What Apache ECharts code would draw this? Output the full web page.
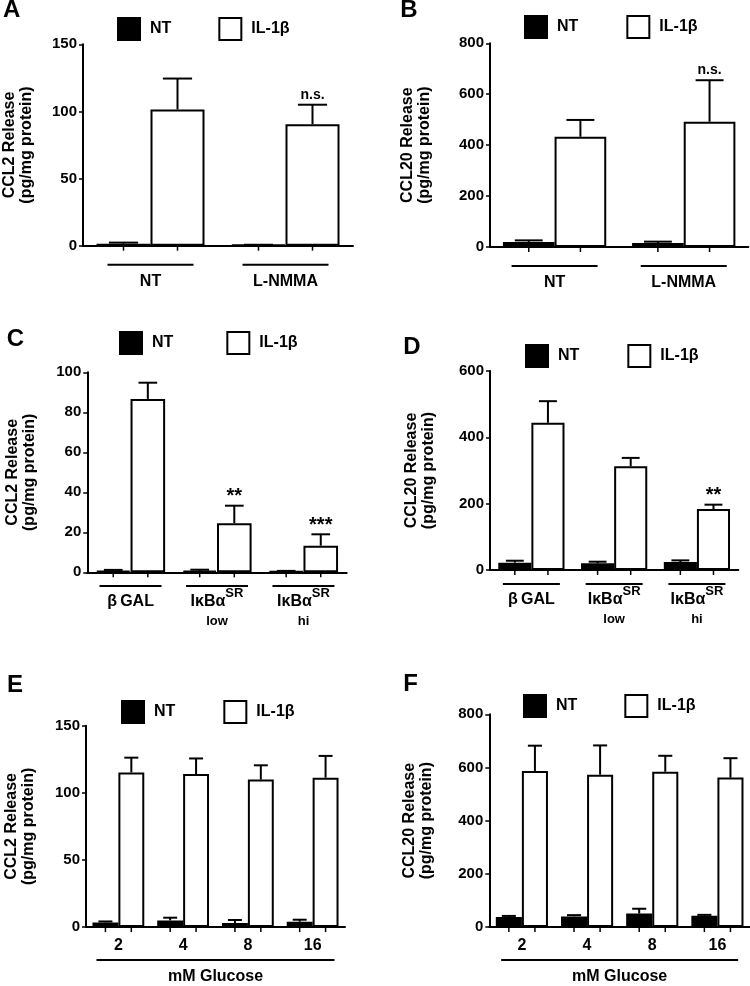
<!DOCTYPE html>
<html><head><meta charset="utf-8">
<script src="https://cdn.jsdelivr.net/npm/echarts@6/dist/echarts.min.js"></script>
<style>html,body{margin:0;padding:0;background:#fff}#c{width:750px;height:986px}</style>
</head><body><div id="c"></div>
<script>
const FONT = "'Liberation Sans', Arial, sans-serif";
const legendNames = ['NT', 'IL-1β'];
const letters = ['A', 'B', 'C', 'D', 'E', 'F'];
const yNameCCL2 = 'CCL2 Release\n(pg/mg protein)';
const yNameCCL20 = 'CCL20 Release\n(pg/mg protein)';

// Panel A
const catA = ['NT', 'L-NMMA'];
const ntA = [1.5, 0.5];
const ntErrA = [0.8, 0.2];
const ilA = [101.5, 90.5];
const ilErrA = [23, 14.5];
const sigA = ['', 'n.s.'];
const yTicksA = [0, 50, 100, 150];

// Panel B
const catB = ['NT', 'L-NMMA'];
const ntB = [20, 16];
const ntErrB = [6, 5];
const ilB = [433, 492];
const ilErrB = [66, 163];
const sigB = ['', 'n.s.'];
const yTicksB = [0, 200, 400, 600, 800];

// Panel C
const catC = ['β\u2009GAL', 'IκBα', 'IκBα'];
const supC = ['', 'SR', 'SR'];
const subC = ['', 'low', 'hi'];
const ntC = [0.8, 0.9, 0.5];
const ntErrC = [0.4, 0.4, 0.2];
const ilC = [86.7, 24.5, 13.3];
const ilErrC = [8.1, 8.8, 5.7];
const sigC = ['', '**', '***'];
const yTicksC = [0, 20, 40, 60, 80, 100];

// Panel D
const catD = ['β\u2009GAL', 'IκBα', 'IκBα'];
const supD = ['', 'SR', 'SR'];
const subD = ['', 'low', 'hi'];
const ntD = [22, 20, 24];
const ntErrD = [6, 5, 5];
const ilD = [444, 313, 184];
const ilErrD = [65, 25, 13];
const sigD = ['', '', '**'];
const yTicksD = [0, 200, 400, 600];

// Panel E
const catE = ['2', '4', '8', '16'];
const ntE = [3.5, 5, 3, 4];
const ntErrE = [0.7, 2, 2.3, 1.5];
const ilE = [115.2, 114, 109.9, 111.3];
const ilErrE = [11, 11.6, 10.6, 16.2];
const sigE = ['', '', '', ''];
const yTicksE = [0, 50, 100, 150];
const xNameE = 'mM Glucose';

// Panel F
const catF = ['2', '4', '8', '16'];
const ntF = [38, 40, 51, 43];
const ntErrF = [4, 5, 18, 3];
const ilF = [587, 573, 584, 562];
const ilErrF = [95, 110, 60, 73];
const sigF = ['', '', '', ''];
const yTicksF = [0, 200, 400, 600, 800];
const xNameF = 'mM Glucose';

const panels = [
  {cats: catA, nt: ntA, ntErr: ntErrA, il: ilA, ilErr: ilErrA, sig: sigA, ticks: yTicksA, yName: yNameCCL2, kind: 'group'},
  {cats: catB, nt: ntB, ntErr: ntErrB, il: ilB, ilErr: ilErrB, sig: sigB, ticks: yTicksB, yName: yNameCCL20, kind: 'group'},
  {cats: catC, sup: supC, sub: subC, nt: ntC, ntErr: ntErrC, il: ilC, ilErr: ilErrC, sig: sigC, ticks: yTicksC, yName: yNameCCL2, kind: 'sr'},
  {cats: catD, sup: supD, sub: subD, nt: ntD, ntErr: ntErrD, il: ilD, ilErr: ilErrD, sig: sigD, ticks: yTicksD, yName: yNameCCL20, kind: 'sr'},
  {cats: catE, nt: ntE, ntErr: ntErrE, il: ilE, ilErr: ilErrE, sig: sigE, ticks: yTicksE, yName: yNameCCL2, kind: 'glu', xName: xNameE},
  {cats: catF, nt: ntF, ntErr: ntErrF, il: ilF, ilErr: ilErrF, sig: sigF, ticks: yTicksF, yName: yNameCCL20, kind: 'glu', xName: xNameF}
];

// layout (positions / sizes)
const layout = [
  {grid: {left: 82.7, top: 44.3, width: 270.3, height: 201.4}, letter: [11.7, 10.3], legend: {left: 117, top: 17, gap: 47}, nameGap: 48, lnW: 86, margin: 18},
  {grid: {left: 490, top: 43.3, width: 258.3, height: 203.7}, letter: [409, 10.5], legend: {left: 524, top: 15, gap: 48}, nameGap: 57, lnW: 86, margin: 18},
  {grid: {left: 87.3, top: 372.3, width: 259.4, height: 200}, letter: [15.5, 339], legend: {left: 119, top: 331, gap: 53}, nameGap: 49, lnW: 62, margin: 12.7},
  {grid: {left: 490, top: 371, width: 248.3, height: 199}, letter: [412, 347], legend: {left: 525, top: 344, gap: 48}, nameGap: 53, lnW: 57, margin: 13},
  {grid: {left: 86, top: 725.7, width: 259, height: 206.6}, letter: [15, 685], legend: {left: 121, top: 700, gap: 48}, nameGap: 49, lnW: 238, margin: 10, xNameGap: 30},
  {grid: {left: 489.3, top: 714.3, width: 260.7, height: 219}, letter: [410.5, 684.5], legend: {left: 523, top: 694, gap: 47}, nameGap: 54, lnW: 237, margin: 10, xNameGap: 30}
];

const BLACK = '#000';
const grids = [], xAxes = [], yAxes = [], series = [], legends = [], graphics = [];

function errRenderer(side, sig) {
  return function (params, api) {
    const i = api.value(0), m = api.value(1), e = api.value(2);
    const bw = api.size([1, 0])[0];
    const base = api.coord([i, 0]);
    const cx = base[0] + side * bw * 0.2;
    const yTop = api.coord([i, m])[1];
    const yErr = api.coord([i, m + e])[1];
    const half = bw * 0.4 * 0.27;
    const ls = {stroke: BLACK, lineWidth: 2};
    const children = [
      {type: 'line', shape: {x1: cx, y1: yTop, x2: cx, y2: yErr}, style: ls},
      {type: 'line', shape: {x1: cx - half, y1: yErr, x2: cx + half, y2: yErr}, style: ls},
      {type: 'line', shape: {x1: cx, y1: base[1], x2: cx, y2: base[1] + 5}, style: {stroke: BLACK, lineWidth: 1.5}}
    ];
    const s = sig ? sig[i] : '';
    if (s) {
      const star = s.indexOf('*') >= 0;
      children.push({type: 'text', style: {
        text: s, x: cx, y: star ? yErr - 9 : yErr - 3,
        textAlign: 'center', textVerticalAlign: star ? 'middle' : 'bottom',
        font: 'bold ' + (star ? 20 : 14) + 'px ' + FONT, fill: BLACK
      }});
    }
    return {type: 'group', children: children};
  };
}

panels.forEach((p, k) => {
  const L = layout[k];
  grids.push(Object.assign({containLabel: false}, L.grid));
  const xa = {
    type: 'category', gridIndex: k, data: p.cats,
    axisLine: {show: true, lineStyle: {color: BLACK, width: 2}},
    axisTick: {show: false},
    axisLabel: {interval: 0, margin: L.margin, color: BLACK, fontFamily: FONT, fontWeight: 'bold', fontSize: 16}
  };
  if (p.kind === 'group') {
    xa.axisLabel.formatter = (v) => '{ln|}\n{t|' + v + '}';
    xa.axisLabel.rich = {
      ln: {width: L.lnW, height: 2, lineHeight: 2, backgroundColor: BLACK, align: 'center'},
      t: {fontSize: 16, fontWeight: 'bold', fontFamily: FONT, color: BLACK, lineHeight: 32, align: 'center'}
    };
  } else if (p.kind === 'sr') {
    xa.axisLabel.formatter = (v, i) => '{ln|}\n{t|' + v + '}' + (p.sup[i] ? '{sup|' + p.sup[i] + '}' : '') + '\n{sub|' + (p.sub[i] || ' ') + '}';
    xa.axisLabel.rich = {
      ln: {width: L.lnW, height: 2, lineHeight: 2, backgroundColor: BLACK, align: 'center'},
      t: {fontSize: 16, fontWeight: 'bold', fontFamily: FONT, color: BLACK, lineHeight: 30, align: 'center'},
      sup: {fontSize: 13, fontWeight: 'bold', fontFamily: FONT, color: BLACK, lineHeight: 22, verticalAlign: 'top', align: 'center'},
      sub: {fontSize: 13, fontWeight: 'bold', fontFamily: FONT, color: BLACK, lineHeight: 8, align: 'center'}
    };
  } else {
    xa.name = '{ln|}\n{t|' + p.xName + '}';
    xa.nameLocation = 'middle';
    xa.nameGap = L.xNameGap;
    xa.nameTextStyle = {
      rich: {
        ln: {width: L.lnW, height: 2, lineHeight: 2, backgroundColor: BLACK, align: 'center'},
        t: {fontSize: 16, fontWeight: 'bold', fontFamily: FONT, color: BLACK, lineHeight: 32, align: 'center'}
      }
    };
  }
  xAxes.push(xa);
  const t = p.ticks;
  yAxes.push({
    type: 'value', gridIndex: k, min: t[0], max: t[t.length - 1], interval: t[1] - t[0],
    name: p.yName, nameLocation: 'middle', nameRotate: 90, nameGap: L.nameGap,
    nameTextStyle: {color: BLACK, fontFamily: FONT, fontWeight: 'bold', fontSize: 16, lineHeight: 17},
    axisLine: {show: true, lineStyle: {color: BLACK, width: 2}},
    axisTick: {show: true, length: 4, lineStyle: {color: BLACK, width: 1.5}},
    splitLine: {show: false},
    axisLabel: {margin: 6, color: BLACK, fontFamily: FONT, fontWeight: 'bold', fontSize: 15}
  });
  series.push({
    name: legendNames[0], type: 'bar', xAxisIndex: k, yAxisIndex: k, data: p.nt,
    barGap: '0%', barCategoryGap: '20%',
    itemStyle: {color: BLACK, borderColor: BLACK, borderWidth: 2}
  });
  series.push({
    name: legendNames[1], type: 'bar', xAxisIndex: k, yAxisIndex: k, data: p.il,
    barGap: '0%', barCategoryGap: '20%',
    itemStyle: {color: '#fff', borderColor: BLACK, borderWidth: 2}
  });
  series.push({
    name: 'errNT' + k, type: 'custom', xAxisIndex: k, yAxisIndex: k, z: 5,
    data: p.nt.map((v, i) => [i, v, p.ntErr[i]]),
    renderItem: errRenderer(-1, null)
  });
  series.push({
    name: 'errIL' + k, type: 'custom', xAxisIndex: k, yAxisIndex: k, z: 5,
    data: p.il.map((v, i) => [i, v, p.ilErr[i]]),
    renderItem: errRenderer(1, p.sig)
  });
  legends.push({
    data: legendNames, left: L.legend.left, top: L.legend.top, padding: 0,
    itemGap: L.legend.gap, itemWidth: 22, itemHeight: 22, icon: 'rect', selectedMode: false,
    textStyle: {color: BLACK, fontFamily: FONT, fontWeight: 'bold', fontSize: 16, padding: [0, 0, 0, 5]}
  });
  graphics.push({
    type: 'text', x: L.letter[0], y: L.letter[1],
    style: {text: letters[k], font: 'bold 24px ' + FONT, fill: BLACK, textAlign: 'center', textVerticalAlign: 'middle'}
  });
});

const chart = echarts.init(document.getElementById('c'), null, {renderer: 'canvas'});
chart.setOption({
  animation: false,
  backgroundColor: '#fff',
  grid: grids, xAxis: xAxes, yAxis: yAxes, series: series, legend: legends,
  graphic: graphics
});
</script></body></html>
